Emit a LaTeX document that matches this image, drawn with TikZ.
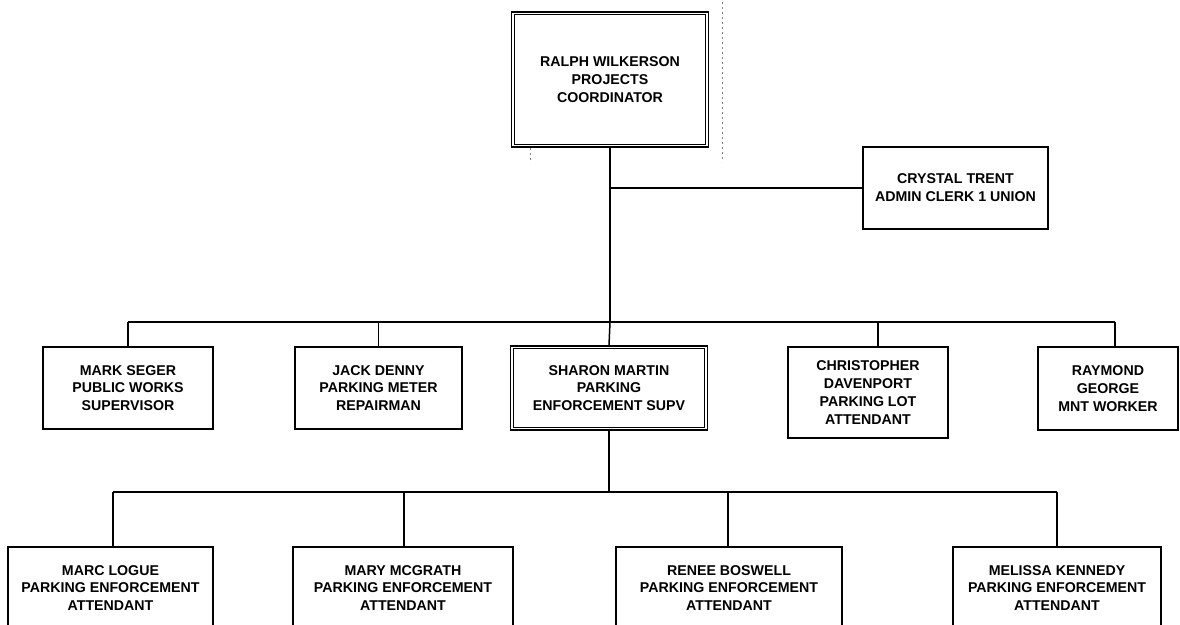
\documentclass[tikz,border=0pt]{standalone}
\usepackage{fontspec}
\setmainfont{Liberation Sans}
\begin{document}
\begin{tikzpicture}[x=1pt,y=-1pt,
  every node/.style={font=\bfseries\fontsize{14.2}{17.8}\selectfont},
  card/.style={draw, line width=1.4pt, align=center, inner sep=0pt},
  link/.style={line width=1.5pt},
  inner frame/.style={line width=0.8pt},
  speck/.style={line width=0.7pt, gray, dash pattern=on 2pt off 3pt}]
\useasboundingbox (0,0) rectangle (1180,624);
\clip (0,0) rectangle (1180,624);

% ---- top level ----
\node[card, minimum width=197pt, minimum height=135pt] (ralph) at (610,79.5)
  {RALPH WILKERSON\\PROJECTS\\COORDINATOR};
\draw[inner frame] ([shift={(3.5,3.5)}]ralph.north west) rectangle ([shift={(-3.5,-3.5)}]ralph.south east);

\node[card, minimum width=185pt, minimum height=82pt] (crystal) at (955.5,188)
  {CRYSTAL TRENT\\ADMIN CLERK 1 UNION};

% ---- second level ----
\node[card, minimum width=170pt, minimum height=82pt] (mark) at (128,388)
  {MARK SEGER\\PUBLIC WORKS\\SUPERVISOR};
\node[card, minimum width=167pt, minimum height=82pt] (jack) at (378.5,388)
  {JACK DENNY\\PARKING METER\\REPAIRMAN};
\node[card, minimum width=197pt, minimum height=84pt] (sharon) at (609,388)
  {SHARON MARTIN\\PARKING\\ENFORCEMENT SUPV};
\draw[inner frame] ([shift={(3.5,3.5)}]sharon.north west) rectangle ([shift={(-3.5,-3.5)}]sharon.south east);
\node[card, minimum width=160pt, minimum height=91pt] (chris) at (868,392.5)
  {CHRISTOPHER\\DAVENPORT\\PARKING LOT\\ATTENDANT};
\node[card, minimum width=140pt, minimum height=83pt] (raymond) at (1108,388.5)
  {RAYMOND\\GEORGE\\MNT WORKER};

% ---- third level ----
\node[card, minimum width=205pt, minimum height=82pt] (marc) at (110.5,588)
  {MARC LOGUE\\PARKING ENFORCEMENT\\ATTENDANT};
\node[card, minimum width=220pt, minimum height=82pt] (mary) at (403,588)
  {MARY MCGRATH\\PARKING ENFORCEMENT\\ATTENDANT};
\node[card, minimum width=226pt, minimum height=82pt] (renee) at (729,588)
  {RENEE BOSWELL\\PARKING ENFORCEMENT\\ATTENDANT};
\node[card, minimum width=208pt, minimum height=82pt] (melissa) at (1057,588)
  {MELISSA KENNEDY\\PARKING ENFORCEMENT\\ATTENDANT};

% ---- bus coordinates ----
\coordinate (busA) at (610,322);
\coordinate (markdrop) at (128,322);
\coordinate (chrisdrop) at (878,322);
\coordinate (raydrop) at (1115,322);
\coordinate (busB) at (609,492);
\coordinate (marcdrop) at (113,492);
\coordinate (marydrop) at (404,492);
\coordinate (reneedrop) at (728,492);
\coordinate (meldrop) at (1057,492);

% ---- connectors ----
\draw[link] (ralph.south) -- (busA);
\draw[link] (ralph.south |- crystal.west) -- (crystal.west);
\draw[link] (markdrop) -- (raydrop);
\draw[link] (markdrop) -- (mark.north);
\draw[link] (jack.north |- busA) -- (jack.north);
\draw[link] (busA) -- (sharon.north);
\draw[link] (chrisdrop) -- (chrisdrop |- chris.north);
\draw[link] (raydrop) -- (raydrop |- raymond.north);

\draw[link] (sharon.south) -- (busB);
\draw[link] (marcdrop) -- (meldrop);
\draw[link] (marcdrop) -- (marcdrop |- marc.north);
\draw[link] (marydrop) -- (marydrop |- mary.north);
\draw[link] (reneedrop) -- (reneedrop |- renee.north);
\draw[link] (meldrop) -- (meldrop |- melissa.north);

% ---- faint scanner marks ----
\draw[speck] (722,2) -- (722,162);
\draw[speck] (530,148) -- (530,163);
\end{tikzpicture}
\end{document}
